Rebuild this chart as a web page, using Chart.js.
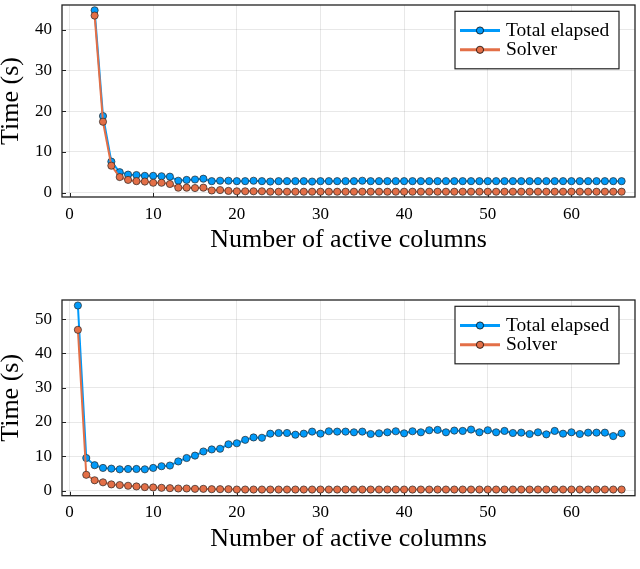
<!DOCTYPE html>
<html>
<head>
<meta charset="utf-8">
<script src="https://cdn.jsdelivr.net/npm/chart.js@4.4.1/dist/chart.umd.min.js"></script>
<style>
  html, body { margin: 0; padding: 0; background: #fff; }
  #wrap { position: relative; width: 640px; height: 569px; overflow: hidden; }
  .box { position: absolute; left: 0; width: 640px; height: 285px; }
</style>
</head>
<body>
<div id="wrap">
  <div class="box" style="top:0px"><canvas id="c1"></canvas></div>
  <div class="box" style="top:284px"><canvas id="c2"></canvas></div>
</div>
<script>
// ---------- DATA ----------
const seriesNames = ["Total elapsed", "Solver"];
const xTicks = [0, 10, 20, 30, 40, 50, 60];
const yTicksTop = [0, 10, 20, 30, 40];
const yTicksBottom = [0, 10, 20, 30, 40, 50];

const colsTop = [3,4,5,6,7,8,9,10,11,12,13,14,15,16,17,18,19,20,21,22,23,24,25,26,27,28,29,30,31,32,33,34,
  35,36,37,38,39,40,41,42,43,44,45,46,47,48,49,50,51,52,53,54,55,56,57,58,59,60,61,62,63,64,65,66];
const totalTop = [44.8,18.8,7.6,5.0,4.4,4.3,4.1,4.1,4.0,3.9,2.9,3.1,3.2,3.4,2.8,2.9,2.9,2.8,2.8,2.9,2.8,2.7,
  2.8,2.8,2.8,2.8,2.7,2.8,2.8,2.8,2.8,2.8,2.9,2.8,2.8,2.8,2.8,2.8,2.8,2.8,2.8,2.8,2.8,2.8,2.8,2.8,2.8,2.8,
  2.8,2.8,2.8,2.8,2.8,2.8,2.8,2.8,2.8,2.8,2.8,2.8,2.8,2.8,2.8,2.8];
const solverTop = [43.5,17.4,6.6,3.8,3.1,2.8,2.7,2.4,2.4,2.1,1.2,1.2,1.1,1.2,0.5,0.6,0.4,0.3,0.3,0.3,0.3,0.2,
  0.2,0.2,0.2,0.2,0.2,0.2,0.2,0.2,0.2,0.2,0.2,0.2,0.2,0.2,0.2,0.2,0.2,0.2,0.2,0.2,0.2,0.2,0.2,0.2,0.2,0.2,
  0.2,0.2,0.2,0.2,0.2,0.2,0.2,0.2,0.2,0.2,0.2,0.2,0.2,0.2,0.2,0.2];

const colsBottom = [1,2,3,4,5,6,7,8,9,10,11,12,13,14,15,16,17,18,19,20,21,22,23,24,25,26,27,28,29,30,31,32,33,
  34,35,36,37,38,39,40,41,42,43,44,45,46,47,48,49,50,51,52,53,54,55,56,57,58,59,60,61,62,63,64,65,66];
const totalBottom = [54.0,9.5,7.4,6.6,6.4,6.2,6.3,6.3,6.2,6.6,7.1,7.3,8.5,9.5,10.2,11.4,12.0,12.2,13.5,13.8,
  14.8,15.5,15.4,16.6,16.8,16.8,16.3,16.6,17.2,16.6,17.3,17.2,17.2,17.0,17.2,16.5,16.7,17.0,17.3,16.7,17.3,
  17.0,17.6,17.7,17.0,17.5,17.4,17.8,17.0,17.6,17.0,17.4,16.8,16.9,16.5,17.0,16.4,17.4,16.6,17.0,16.5,16.9,
  16.9,16.9,15.9,16.7];
const solverBottom = [46.9,4.6,3.0,2.4,1.8,1.6,1.4,1.2,1.0,0.9,0.8,0.7,0.6,0.6,0.5,0.5,0.4,0.4,0.4,0.3,0.3,
  0.3,0.3,0.3,0.3,0.3,0.3,0.3,0.3,0.3,0.3,0.3,0.3,0.3,0.3,0.3,0.3,0.3,0.3,0.3,0.3,0.3,0.3,0.3,0.3,0.3,0.3,
  0.3,0.3,0.3,0.3,0.3,0.3,0.3,0.3,0.3,0.3,0.3,0.3,0.3,0.3,0.3,0.3,0.3,0.3,0.3];

// ---------- STYLE ----------
const BLUE = '#009AFA';
const ORANGE = '#E36F47';
const FONT = "'Liberation Serif', 'Times New Roman', serif";

function pts(xs, ys) { return xs.map((x, i) => ({ x: x, y: ys[i] })); }

const framePlugin = {
  id: 'frame',
  beforeDatasetsDraw(chart) {
    const { ctx, chartArea: a, scales } = chart;
    ctx.save();
    ctx.strokeStyle = '#222';
    ctx.lineWidth = 1;
    scales.x.ticks.forEach(t => {
      const px = Math.round(scales.x.getPixelForValue(t.value)) + 0.5;
      ctx.beginPath(); ctx.moveTo(px, a.bottom); ctx.lineTo(px, a.bottom - 4); ctx.stroke();
    });
    scales.y.ticks.forEach(t => {
      const py = Math.round(scales.y.getPixelForValue(t.value)) + 0.5;
      ctx.beginPath(); ctx.moveTo(a.left, py); ctx.lineTo(a.left + 4, py); ctx.stroke();
    });
    ctx.restore();
  },
  afterDraw(chart) {
    const { ctx, chartArea: a } = chart;
    ctx.save();
    ctx.strokeStyle = '#222';
    ctx.lineWidth = 1.3;
    ctx.strokeRect(a.left, a.top, a.right - a.left, a.bottom - a.top);
    // legend
    const w = 164, h = 57.5;
    const bx = a.right - 16 - w, by = a.top + 6.3;
    ctx.fillStyle = '#fff';
    ctx.fillRect(bx, by, w, h);
    ctx.lineWidth = 1.2;
    ctx.strokeStyle = '#222';
    ctx.strokeRect(bx, by, w, h);
    const rows = [by + 19.2, by + 38.5];
    chart.data.datasets.forEach((ds, i) => {
      const y = rows[i];
      ctx.strokeStyle = ds.borderColor;
      ctx.lineWidth = 3;
      ctx.beginPath(); ctx.moveTo(bx + 5, y); ctx.lineTo(bx + 45, y); ctx.stroke();
      ctx.beginPath(); ctx.arc(bx + 25, y, 3.6, 0, Math.PI * 2);
      ctx.fillStyle = ds.pointBackgroundColor; ctx.fill();
      ctx.lineWidth = 1; ctx.strokeStyle = 'rgba(0,0,0,0.75)'; ctx.stroke();
      ctx.fillStyle = '#000';
      ctx.font = "19.5px " + FONT;
      ctx.textBaseline = 'middle';
      ctx.textAlign = 'left';
      ctx.fillText(ds.label, bx + 51, y + 0.5);
    });
    ctx.restore();
  }
};

function makeChart(id, xs, tot, sol, yMin, yMax, yTickVals, padTop, xHeight, titlePadBottom) {
  return new Chart(document.getElementById(id), {
    type: 'line',
    data: {
      datasets: [
        { label: seriesNames[0], data: pts(xs, tot), borderColor: BLUE, backgroundColor: BLUE,
          pointBackgroundColor: BLUE, pointBorderColor: 'rgba(40,40,40,0.7)', pointBorderWidth: 1,
          pointRadius: 3.6, borderWidth: 2, tension: 0, order: 1 },
        { label: seriesNames[1], data: pts(xs, sol), borderColor: ORANGE, backgroundColor: ORANGE,
          pointBackgroundColor: ORANGE, pointBorderColor: 'rgba(40,40,40,0.7)', pointBorderWidth: 1,
          pointRadius: 3.6, borderWidth: 2, tension: 0, order: 0 }
      ]
    },
    options: {
      responsive: true,
      maintainAspectRatio: false,
      animation: false,
      devicePixelRatio: 1,
      layout: { padding: { top: padTop, right: 5, left: 0, bottom: 0 } },
      plugins: { legend: { display: false }, tooltip: { enabled: false } },
      scales: {
        x: {
          type: 'linear', min: -0.9, max: 67.6,
          afterBuildTicks(s) { s.ticks = xTicks.map(v => ({ value: v })); },
          afterFit(s) { s.height = xHeight; s.paddingLeft = 0; s.paddingRight = 0; },
          ticks: { color: '#000', font: { family: FONT, size: 17 }, padding: 7,
                   maxRotation: 0, autoSkip: false },
          grid: { color: 'rgba(0,0,0,0.09)', lineWidth: 1, drawTicks: false },
          border: { display: false },
          title: { display: true, text: 'Number of active columns', color: '#000',
                   font: { family: FONT, size: 26, lineHeight: 1.2 },
                   padding: { top: 0, bottom: titlePadBottom } }
        },
        y: {
          type: 'linear', min: yMin, max: yMax,
          afterBuildTicks(s) { s.ticks = yTickVals.map(v => ({ value: v })); },
          afterFit(s) { s.width = 62; s.paddingTop = 0; s.paddingBottom = 0; },
          ticks: { color: '#000', font: { family: FONT, size: 17 }, padding: 10 },
          grid: { color: 'rgba(0,0,0,0.09)', lineWidth: 1, drawTicks: false },
          border: { display: false },
          title: { display: true, text: 'Time (s)', color: '#000',
                   font: { family: FONT, size: 26, lineHeight: 1 },
                   padding: { top: -2, bottom: 0 } }
        }
      }
    },
    plugins: [framePlugin]
  });
}

makeChart('c1', colsTop, totalTop, solverTop, -1.1, 46.1, yTicksTop, 2, 88, 29.5);
makeChart('c2', colsBottom, totalBottom, solverBottom, -1.5, 55.6, yTicksBottom, 16, 73.3, 14.5);
</script>
</body>
</html>
